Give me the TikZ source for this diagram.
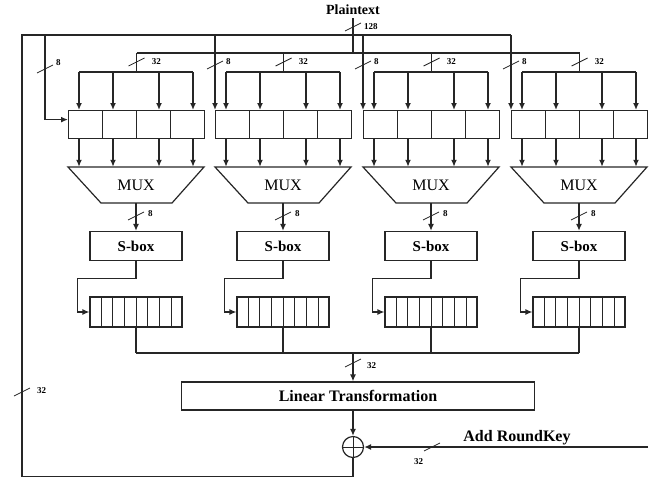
\documentclass[tikz,border=0pt]{standalone}
\usepackage{fontspec}
\setmainfont{Liberation Serif}
\usetikzlibrary{arrows.meta,calc,positioning}
\def\widthmark(#1)(#2)#3{\draw[slash] ($(#1)+(-8,4)$) -- ($(#1)+(8,-4)$); \node[widthlbl] at ($(#1)+(#2)$) {#3};}
\tikzset{
  wire/.style={draw=black!85, line width=1.2pt},
  cellwire/.style={draw=black!85, line width=0.9pt},
  feed/.style={wire, -{Latex[length=7pt,width=6pt]}},
  feedthick/.style={feed, line width=1.7pt},
  slash/.style={draw=black!85, line width=0.8pt},
  widthlbl/.style={font=\fontsize{9}{9}\selectfont\bfseries, inner sep=0pt, anchor=west},
  regbox/.style={wire, rectangle, minimum width=136pt, minimum height=28pt, inner sep=0pt},
  bitbox/.style={wire, rectangle, minimum width=92pt, minimum height=30pt, inner sep=0pt},
  sbox/.style={wire, rectangle, minimum width=92pt, minimum height=29pt, font=\fontsize{15}{15}\selectfont\bfseries},
  muxlbl/.style={rectangle, minimum width=71pt, minimum height=36pt, inner sep=0pt, font=\fontsize{16}{16}\selectfont},
  ltbox/.style={wire, rectangle, minimum width=353pt, minimum height=28pt, font=\fontsize{16}{16}\selectfont\bfseries},
  xorgate/.style={wire, circle, minimum size=21pt, inner sep=0pt,
    path picture={\draw[black!85, line width=1pt] (path picture bounding box.north) -- (path picture bounding box.south)
      (path picture bounding box.west) -- (path picture bounding box.east);}},
}

\begin{document}
\begin{tikzpicture}[x=1pt,y=-1pt]
	\useasboundingbox (0,0) rectangle (655,479);
	%%%%% START %%%%%
	\node[font=\fontsize{14}{14}\selectfont\bfseries] (plain) at (353,10) {Plaintext};
	
	\foreach \n/\bx in {1/68,2/215,3/363,4/511}{
		\node[regbox, anchor=north west] (reg\n) at (\bx,110) {};
		\foreach \k in {1,2,3}
			\draw[cellwire] ($(reg\n.north west)!\k/4!(reg\n.north east)$) -- ($(reg\n.south west)!\k/4!(reg\n.south east)$);
		\draw[wire] (\bx,167) -- (\bx+136,167) -- (\bx+104,203) -- (\bx+33,203) -- cycle;
		\node[muxlbl] (mux\n) at (\bx+68,185) {MUX};
		\node[sbox] (sbox\n) at (\bx+68,246) {S-box};
		\node[bitbox] (bits\n) at (\bx+68,312) {};
		\foreach \k in {1,...,7}
			\draw[cellwire] ($(bits\n.north west)!\k/8!(bits\n.north east)$) -- ($(bits\n.south west)!\k/8!(bits\n.south east)$);
		
		\draw[wire] (reg\n.north |- 0,53) -- (reg\n.north |- 0,72);
		\draw[wire] (\bx+11,72) -- (\bx+125,72);
		\foreach \o in {11,45,91,125}{
			\draw[feedthick] (\bx+\o,72) -- (\bx+\o,0 |- reg\n.north);
			\draw[feedthick] (\bx+\o,0 |- reg\n.south) -- (\bx+\o,0 |- mux\n.north);
		}
		\widthmark(reg\n.north |- 0,62)(15,0){32}
		
		\draw[feedthick] (mux\n.south) -- (sbox\n.north);
		\widthmark(\bx+68,216)(12,-2){8}
		\draw[feed] (sbox\n.south) -- ++(0,17) -| ([xshift=-12pt]bits\n.west) -- (bits\n.west);
		\draw[wire] (bits\n.south) -- (bits\n.south |- 0,353);
	}
	
	% 8-bit feedback words
	\draw[feedthick] (45,35) |- ([yshift=5pt]reg1.west);
	\widthmark(45,69)(11,-6){8}
	\foreach \n in {2,3,4}{
		\draw[feedthick] (reg\n.north west |- 0,35) -- (reg\n.north west);
		\widthmark(reg\n.north west |- 0,65)(11,-3){8}
	}
	
	% plaintext
	\draw[wire] (plain.south) -- (plain.south |- 0,53);
	\draw[wire] (reg1.north |- 0,53) -- (reg4.north |- 0,53);
	\widthmark(plain.south |- 0,27)(11,0){128}
	
	\draw[wire] (bits1.south |- 0,353) -- (bits4.south |- 0,353);
	\node[ltbox] (lt) at (358,396) {Linear Transformation};
	\node[xorgate] (xor) at (353,447) {};
	\draw[feedthick] (xor |- 0,353) -- (xor |- lt.north);
	\widthmark(xor |- 0,363)(14,3){32}
	\draw[feedthick] (xor |- lt.south) -- (xor.north);
	
	\coordinate (key) at (648,447);
	\draw[feedthick] (key) -- (xor.east);
	\node[font=\fontsize{16}{16}\selectfont\bfseries] (keylbl) at (517,438) {Add RoundKey};
	\widthmark(432,447)(-18,15){32}
	
	\draw[wire] (xor.south) -- ++(0,18) -| (22,35) -- (reg4.north west |- 0,35);
	\widthmark(22,392)(15,-1){32}
	%%%%% END %%%%%
\end{tikzpicture}
\end{document}
